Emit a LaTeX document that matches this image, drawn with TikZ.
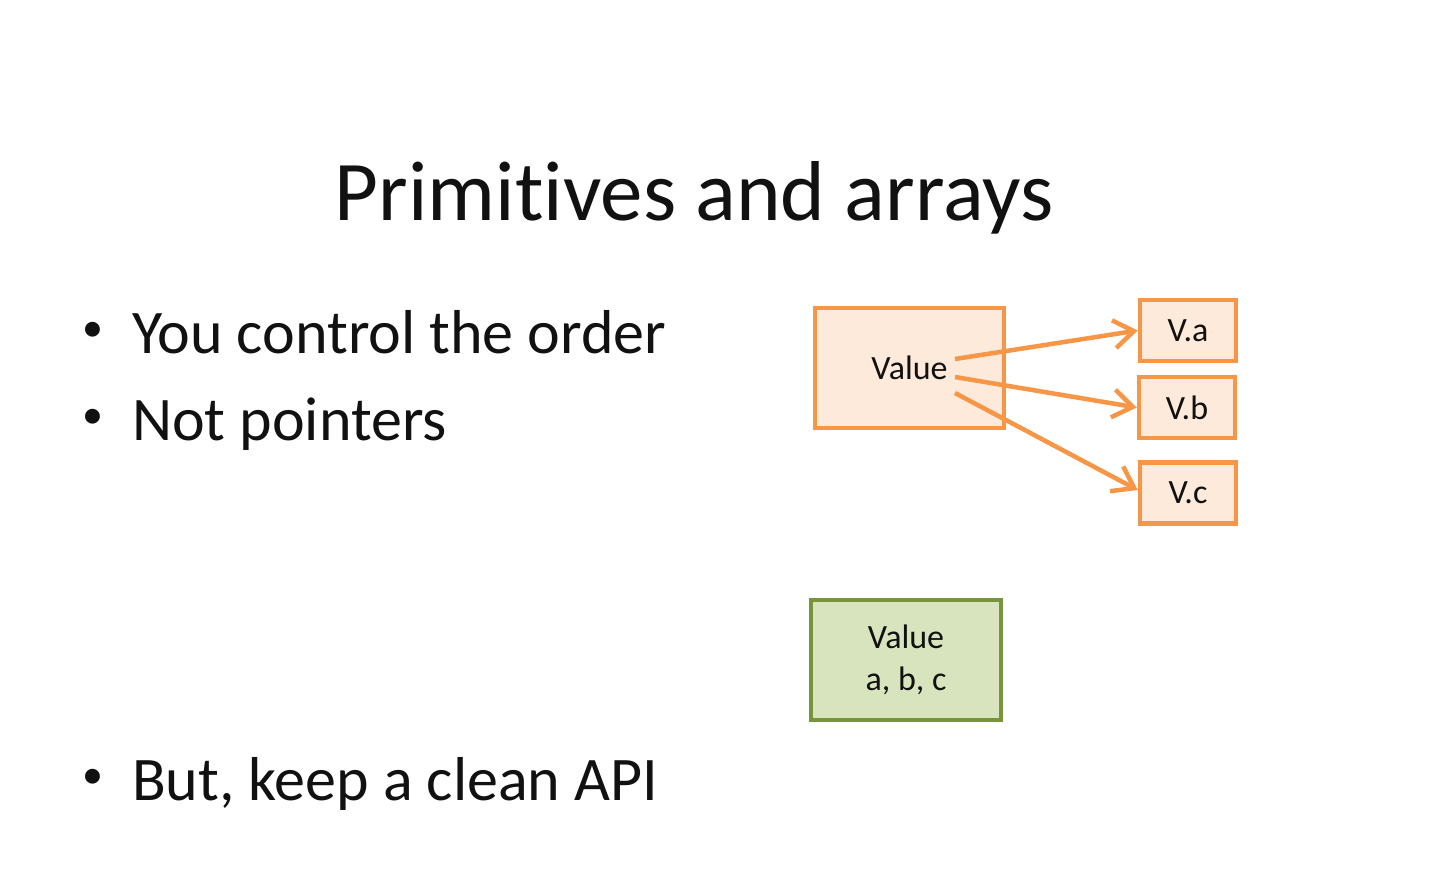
\documentclass[tikz,border=0pt]{standalone}
\usepackage{fontspec}
\setmainfont[Ligatures=NoCommon]{Carlito}
\usetikzlibrary{arrows.meta}
\definecolor{orangeline}{HTML}{F79646}
\definecolor{orangefill}{HTML}{FDEADA}
\definecolor{greenline}{HTML}{77933C}
\definecolor{greenfill}{HTML}{D7E4BD}
\definecolor{inktext}{HTML}{111111}
\newcommand{\blt}{\makebox[52pt][l]{\hspace{2pt}\raisebox{12pt}{\fontsize{42}{42}\selectfont•}}}
\begin{document}
\begin{tikzpicture}[x=1pt,y=-1pt,
  title/.style={anchor=base,font=\fontsize{85}{100}\selectfont,text=inktext,inner sep=0},
  bullet/.style={anchor=base west,font=\fontsize{62}{75}\selectfont,text=inktext,inner sep=0},
  obox/.style={draw=orangeline,fill=orangefill,line width=4.5pt,font=\fontsize{34}{42}\selectfont,text=inktext,inner sep=0},
  gbox/.style={draw=greenline,fill=greenfill,line width=4.5pt,font=\fontsize{34}{42}\selectfont,text=inktext,inner sep=0,align=center},
  link/.style={draw=orangeline,line width=4.5pt,-{Straight Barb[length=20pt,width=28pt,line width=4.5pt]}}
]
\useasboundingbox[fill=white] (0,0) rectangle (1429,884);

% title
\node[title] (ttl) at (694,220) {Primitives and arrays};

% bullet list
\node[bullet] (b1) at (80,353) {\blt You control the order};
\node[bullet] (b2) at (80,440) {\blt Not pointers};
\node[bullet] (b3) at (80,800) {\blt But, keep a clean API};

% structure holding a value with fields
\node[obox,minimum width=189pt,minimum height=120pt] (val) at (909.5,368) {Value};
\node[obox,minimum width=96pt,minimum height=61pt] (va) at (1188,330.5) {V.a};
\node[obox,minimum width=96pt,minimum height=61pt] (vb) at (1187,407.5) {V.b};
\node[obox,minimum width=96pt,minimum height=61pt] (vc) at (1188,493) {V.c};

\coordinate (s1) at (955,359);
\coordinate (s2) at (955,377);
\coordinate (s3) at (955,393);
\draw[link] (s1) -- (va.west);
\draw[link] (s2) -- (vb.west);
\draw[link] (s3) -- (vc.west |- 0,490);

% flattened value
\node[gbox,minimum width=190pt,minimum height=120pt] (flat) at (906,660) {Value\\a, b, c};
\end{tikzpicture}
\end{document}
